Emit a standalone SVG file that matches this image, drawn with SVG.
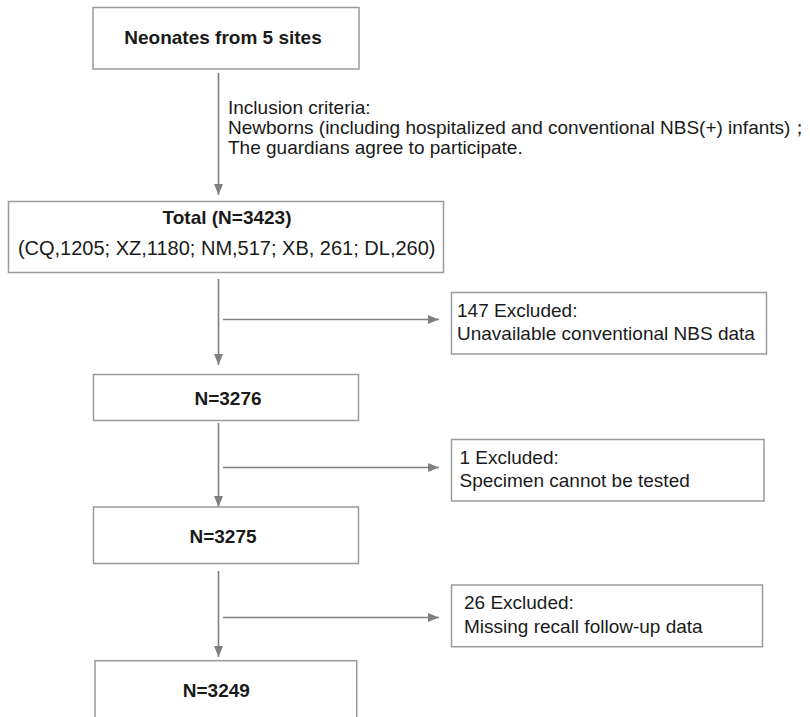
<svg xmlns="http://www.w3.org/2000/svg" width="810" height="717" viewBox="0 0 810 717">
<defs>
<style>
.box{fill:#ffffff;stroke:#9a9a9a;stroke-width:1.5}
.ln{fill:none;stroke:#808080;stroke-width:1.6}
.t{font-family:"Liberation Sans",Arial,sans-serif;font-size:19px;fill:#1a1a1a}
.b{font-weight:bold;text-anchor:middle}
</style>
<marker id="ah" markerUnits="userSpaceOnUse" markerWidth="12" markerHeight="10" refX="11" refY="4.5" orient="auto">
<path d="M0,0 L11,4.5 L0,9 Z" fill="#808080"/>
</marker>
</defs>
<rect width="810" height="717" fill="#ffffff"/>
<g id="connectors">
<line class="ln" x1="218.5" y1="73" x2="218.5" y2="195" marker-end="url(#ah)"/>
<line class="ln" x1="218.5" y1="279" x2="218.5" y2="365" marker-end="url(#ah)"/>
<line class="ln" x1="223" y1="319.5" x2="439" y2="319.5" marker-end="url(#ah)"/>
<line class="ln" x1="218.5" y1="423" x2="218.5" y2="507" marker-end="url(#ah)"/>
<line class="ln" x1="223" y1="467.5" x2="439" y2="467.5" marker-end="url(#ah)"/>
<line class="ln" x1="218.5" y1="571" x2="218.5" y2="657" marker-end="url(#ah)"/>
<line class="ln" x1="223" y1="617.5" x2="439" y2="617.5" marker-end="url(#ah)"/>
<text class="t" x="228" y="113.5">Inclusion criteria:</text>
<text class="t" x="228" y="134">Newborns (including hospitalized and conventional NBS(+) infants)；</text>
<text class="t" x="228" y="154">The guardians agree to participate.</text>
</g>
<g id="n_start">
<rect class="box" x="93" y="7.5" width="266" height="61.5"/>
<text class="t b" x="223" y="43.5">Neonates from 5 sites</text>
</g>
<g id="n_total">
<rect class="box" x="8.5" y="201.5" width="435" height="71"/>
<text class="t b" x="227" y="223.5">Total (N=3423)</text>
<text class="t" x="226.7" y="255" text-anchor="middle" style="font-size:20px">(CQ,1205; XZ,1180; NM,517; XB, 261; DL,260)</text>
</g>
<g id="n_ex147">
<rect class="box" x="451.5" y="292.5" width="315" height="61.5"/>
<text class="t" x="457" y="316.7">147 Excluded:</text>
<text class="t" x="457" y="340">Unavailable conventional NBS data</text>
</g>
<g id="n_3276">
<rect class="box" x="93.5" y="374.5" width="265" height="46"/>
<text class="t b" x="228" y="405">N=3276</text>
</g>
<g id="n_ex1">
<rect class="box" x="451.5" y="439.5" width="312.5" height="61.5"/>
<text class="t" x="459.5" y="464">1 Excluded:</text>
<text class="t" x="459.5" y="487">Specimen cannot be tested</text>
</g>
<g id="n_3275">
<rect class="box" x="93.5" y="507" width="265" height="56.5"/>
<text class="t b" x="223" y="542.5">N=3275</text>
</g>
<g id="n_ex26">
<rect class="box" x="451.5" y="585" width="311" height="61.7"/>
<text class="t" x="464" y="609.3">26 Excluded:</text>
<text class="t" x="464" y="632.7">Missing recall follow-up data</text>
</g>
<g id="n_3249">
<rect class="box" x="95" y="660.7" width="261.7" height="80"/>
<text class="t b" x="216.3" y="696.7">N=3249</text>
</g>
</svg>
